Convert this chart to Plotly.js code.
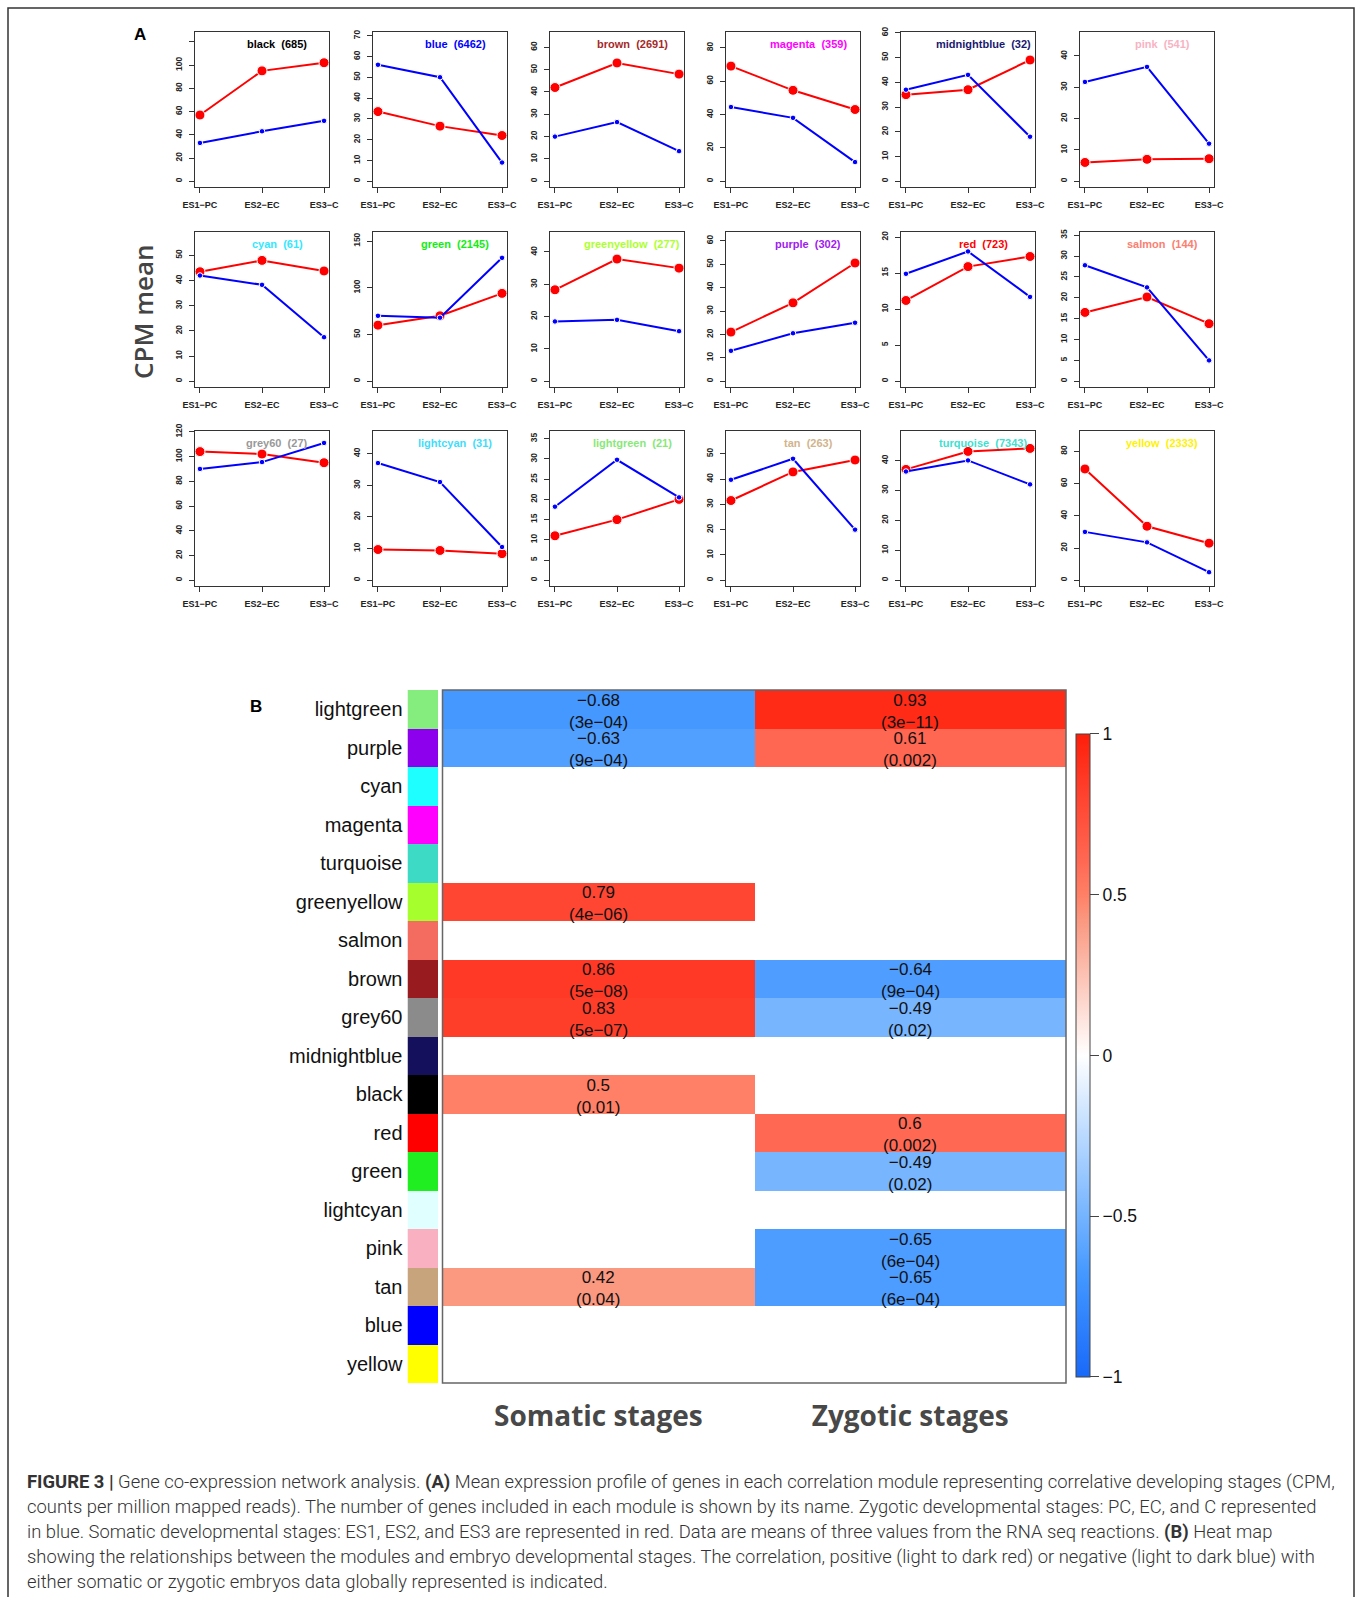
<!DOCTYPE html>
<html><head><meta charset="utf-8">
<script src="https://cdn.plot.ly/plotly-3.0.1.min.js"></script>
<style>html,body{margin:0;padding:0;background:#fff}#chart{width:1360px;height:1597px}</style>
</head><body><div id="chart"></div>
<script>
// ---------- Panel A data ----------
const stages = ['ES1−PC','ES2−EC','ES3−C'];
const modules = ['black','blue','brown','magenta','midnightblue','pink','cyan','green','greenyellow','purple','red','salmon','grey60','lightcyan','lightgreen','tan','turquoise','yellow'];
const geneCounts = [685,6462,2691,359,32,541,61,2145,277,302,723,144,27,31,21,263,7343,2333];
const somaticCPM = [[57,95,102],[33.5,26.5,22],[42,53,48],[69,54.5,43],[35,37,49],[6,7,7.2],
  [43.5,48,43.8],[60,70,94],[28.3,37.8,35],[21,33.5,50.5],[11.2,15.9,17.3],[16.5,20.2,13.8],
  [104,102,95],[9.7,9.4,8.4],[11,15,20],[31.5,42.8,47.5],[37,43,44],[69,33.5,23]];
const zygoticCPM = [[33,43,52],[56,50,9],[20,26.5,13.5],[44.5,38,11.5],[37,43,18],[31.7,36.5,12],
  [42,38.3,17.5],[70,68,132],[18.5,19,15.5],[13,20.5,25],[14.9,18,11.7],[27.8,22.5,5],
  [90,95.5,111],[37,31,10.5],[18.2,29.8,20.5],[39.7,48,20],[36.3,40,32],[30,23.5,5]];
const yUpper = [123.5,69,64.3,86,58,45.8,57,153.5,44.4,61.3,19.9,34.4,116,45.3,35.5,56.7,47.9,89];
const yStep = [20,10,10,20,10,10,10,50,10,10,5,5,20,10,5,10,10,20];
const hiddenTopLabel = ['black'];
const titleColors = ['#000000','#0000FF','#A52A2A','#FF00FF','#191970','#F7B3C3','#33E8FF','#11EE11','#ADFF2F','#A020F0','#FF0000','#FA8072','#999999','#3FDDFB','#88E878','#D2B48C','#40E0D0','#FFF200'];

// ---------- Panel B data ----------
const heatModules = ['lightgreen','purple','cyan','magenta','turquoise','greenyellow','salmon','brown','grey60','midnightblue','black','red','green','lightcyan','pink','tan','blue','yellow'];
const stripColors = ['#85EC7E','#8C00EE','#1EFFFF','#FF00FF','#3DDBC6','#A6FF2C','#F46B5F','#981B20','#8B8B8B','#15105C','#000000','#FF0000','#20EE20','#E0FFFF','#F9B0C1','#C8A47C','#0000FF','#FFFF00'];
const stageGroups = ['Somatic stages','Zygotic stages'];
const somaticR = [-0.68,-0.63,null,null,null,0.79,null,0.86,0.83,null,0.5,null,null,null,null,0.42,null,null];
const somaticP = ['3e−04','9e−04',null,null,null,'4e−06',null,'5e−08','5e−07',null,'0.01',null,null,null,null,'0.04',null,null];
const zygoticR = [0.93,0.61,null,null,null,null,null,-0.64,-0.49,null,null,0.6,-0.49,null,-0.65,-0.65,null,null];
const zygoticP = ['3e−11','0.002',null,null,null,null,null,'9e−04','0.02',null,null,'0.002','0.02',null,'6e−04','6e−04',null,null];
const cbTicks = [-1,-0.5,0,0.5,1];

const captionLines = [
 '<b>FIGURE 3 |</b> Gene co-expression network analysis. <b>(A)</b> Mean expression profile of genes in each correlation module representing correlative developing stages (CPM,',
 'counts per million mapped reads). The number of genes included in each module is shown by its name. Zygotic developmental stages: PC, EC, and C represented',
 'in blue. Somatic developmental stages: ES1, ES2, and ES3 are represented in red. Data are means of three values from the RNA seq reactions. <b>(B)</b> Heat map',
 'showing the relationships between the modules and embryo developmental stages. The correlation, positive (light to dark red) or negative (light to dark blue) with',
 'either somatic or zygotic embryos data globally represented is indicated.'
];

// ---------- geometry helpers ----------
const W = 1360, H = 1597;
const px = v => v / W, py = v => 1 - v / H;
const colLeft = [195,373,550,726,901,1080], panelW = 134;
const rowTop = [32,232,431], panelH = 155;
const minus = s => String(s).replace('-', '−');
const SANS = 'Liberation Sans, Arial, sans-serif';

const data = [], layout = {
  width: W, height: H, margin: {l:0,r:0,t:0,b:0,pad:0},
  paper_bgcolor: '#fff', plot_bgcolor: '#fff', showlegend: false, hovermode: false,
  annotations: [], shapes: []
};

modules.forEach((m, i) => {
  const n = i + 1, r = Math.floor(i / 6), c = i % 6;
  const xk = n === 1 ? 'x' : 'x' + n, yk = n === 1 ? 'y' : 'y' + n;
  const L = colLeft[c], T = rowTop[r];
  const top = yUpper[i] * 1.04;
  const tv = [], tt = [];
  for (let v = 0; v <= top + 1e-9; v += yStep[i]) {
    tv.push(v);
    tt.push(hiddenTopLabel.includes(m) && v + yStep[i] > top ? '' : String(v));
  }
  layout[n === 1 ? 'xaxis' : 'xaxis' + n] = {
    domain: [px(L), px(L + panelW)], anchor: yk, type: 'category', categoryorder: 'array', categoryarray: stages,
    range: [-0.08, 2.08], showline: true, mirror: true, linecolor: '#333', linewidth: 1,
    ticks: 'outside', ticklen: 5, tickcolor: '#333', ticklabelstandoff: 4,
    tickfont: {family: SANS, size: 9, color: '#222', weight: 'bold'}, showgrid: false, zeroline: false
  };
  layout[n === 1 ? 'yaxis' : 'yaxis' + n] = {
    domain: [py(T + panelH), py(T)], anchor: xk, range: [-0.04 * yUpper[i], top],
    tickvals: tv, ticktext: tt, tickangle: -90, showline: true, mirror: true, linecolor: '#333', linewidth: 1,
    ticks: 'outside', ticklen: 5, tickcolor: '#333', ticklabelstandoff: 4,
    tickfont: {family: SANS, size: 8.5, color: '#222', weight: 'bold'}, showgrid: false, zeroline: false
  };
  data.push({x: stages, y: somaticCPM[i], xaxis: xk, yaxis: yk, type: 'scatter', mode: 'lines+markers',
    line: {color: '#FF0000', width: 2}, marker: {size: 10, color: '#FF0000', line: {color: '#fff', width: 1}}, cliponaxis: false});
  data.push({x: stages, y: zygoticCPM[i], xaxis: xk, yaxis: yk, type: 'scatter', mode: 'lines+markers',
    line: {color: '#0000FF', width: 2}, marker: {size: 5.5, color: '#0000FF', line: {color: '#fff', width: 1}}, cliponaxis: false});
  layout.annotations.push({
    xref: xk + ' domain', yref: yk + ' domain', x: 0.5 + 15 / panelW, y: 1, yshift: -12,
    xanchor: 'center', yanchor: 'middle', showarrow: false,
    text: '<b>' + m + '</b>  <b>(' + geneCounts[i] + ')</b>',
    font: {family: SANS, size: 11, color: titleColors[i]}
  });
});

// ---------- Panel B ----------
const heatZ = heatModules.map((_, i) => [somaticR[i], zygoticR[i]]);
data.push({
  type: 'heatmap', x: stageGroups, y: heatModules, z: heatZ, xaxis: 'x19', yaxis: 'y19',
  zmin: -1, zmax: 1, xgap: 0, ygap: 0,
  colorscale: [[0,'rgb(25,105,250)'],[0.16,'rgb(68,152,255)'],[0.255,'rgb(119,181,255)'],[0.5,'rgb(255,255,255)'],
    [0.71,'rgb(250,152,128)'],[0.75,'rgb(255,128,102)'],[0.8,'rgb(255,105,84)'],[0.9,'rgb(255,68,48)'],[1,'rgb(255,30,10)']],
  colorbar: {x: px(1076), xanchor: 'left', xref: 'paper', y: py(1055.4), yanchor: 'middle', yref: 'paper',
    len: 643, lenmode: 'pixels', thickness: 14, thicknessmode: 'pixels', xpad: 0, ypad: 0,
    outlinewidth: 1, outlinecolor: '#444', borderwidth: 0,
    tickvals: cbTicks, ticktext: cbTicks.map(minus), ticks: 'outside', ticklen: 9, tickcolor: '#444',
    tickfont: {family: SANS, size: 17.5, color: '#111'}}
});
data.push({
  type: 'heatmap', x: ['module'], y: heatModules, z: heatModules.map((_, i) => [i]),
  xaxis: 'x20', yaxis: 'y19', zmin: 0, zmax: heatModules.length - 1, showscale: false,
  colorscale: stripColors.map((col, i) => [i / (stripColors.length - 1), col])
});
layout.xaxis19 = {domain: [px(442.5), px(1066)], anchor: 'y19', type: 'category', categoryorder: 'array',
  categoryarray: stageGroups, range: [-0.5, 1.5], ticks: '', showline: false, showgrid: false, zeroline: false,
  ticklabelstandoff: 14, tickfont: {family: 'Open Sans, sans-serif', size: 28, color: '#484848', weight: 'bold'}};
layout.xaxis20 = {domain: [px(407.5), px(438)], anchor: 'y19', range: [-0.5, 0.5], showticklabels: false, ticks: '',
  showline: false, showgrid: false, zeroline: false};
layout.yaxis19 = {domain: [py(1383), py(690)], anchor: 'x20', type: 'category', categoryorder: 'array',
  categoryarray: heatModules, range: [heatModules.length - 0.5, -0.5], ticks: '', showline: false, showgrid: false,
  zeroline: false, ticklabelstandoff: 4, tickfont: {family: SANS, size: 20, color: '#111'}};

heatModules.forEach((m, i) => {
  [[somaticR, somaticP], [zygoticR, zygoticP]].forEach(([rr, pp], j) => {
    if (rr[i] === null) return;
    layout.annotations.push({xref: 'x19', yref: 'y19', x: stageGroups[j], y: m, showarrow: false,
      xanchor: 'center', yanchor: 'middle', text: minus(rr[i]) + '<br>(' + pp[i] + ')', yshift: -2,
      font: {family: SANS, size: 17, color: '#111'}});
  });
});
layout.shapes.push({type: 'rect', xref: 'x19 domain', yref: 'y19 domain', x0: 0, x1: 1, y0: 0, y1: 1,
  line: {color: '#666', width: 1.5}, fillcolor: 'rgba(0,0,0,0)'});

// ---------- labels, border, caption ----------
layout.annotations.push({xref: 'paper', yref: 'paper', x: px(140), y: py(35), xanchor: 'center', yanchor: 'middle',
  showarrow: false, text: '<b>A</b>', font: {family: SANS, size: 17, color: '#000'}});
layout.annotations.push({xref: 'paper', yref: 'paper', x: px(256), y: py(707), xanchor: 'center', yanchor: 'middle',
  showarrow: false, text: '<b>B</b>', font: {family: SANS, size: 17, color: '#000'}});
layout.annotations.push({xref: 'paper', yref: 'paper', x: px(143), y: py(312), xanchor: 'center', yanchor: 'middle',
  showarrow: false, textangle: -90, text: 'CPM mean',
  font: {family: 'Open Sans, sans-serif', size: 26, color: '#444', weight: 600}});
layout.shapes.push({type: 'rect', xref: 'paper', yref: 'paper', x0: px(8), x1: px(1354), y0: py(1640), y1: py(8),
  line: {color: '#333', width: 1.5}, fillcolor: 'rgba(0,0,0,0)'});
captionLines.forEach((t, k) => {
  layout.annotations.push({xref: 'paper', yref: 'paper', x: px(25), y: py(1481.5 + 25 * k), xanchor: 'left',
    yanchor: 'middle', align: 'left', showarrow: false, text: t,
    font: {family: 'Roboto, sans-serif', size: 18.4, color: '#333', weight: 300}});
});

Plotly.newPlot('chart', data, layout, {displayModeBar: false, staticPlot: true});
</script></body></html>
